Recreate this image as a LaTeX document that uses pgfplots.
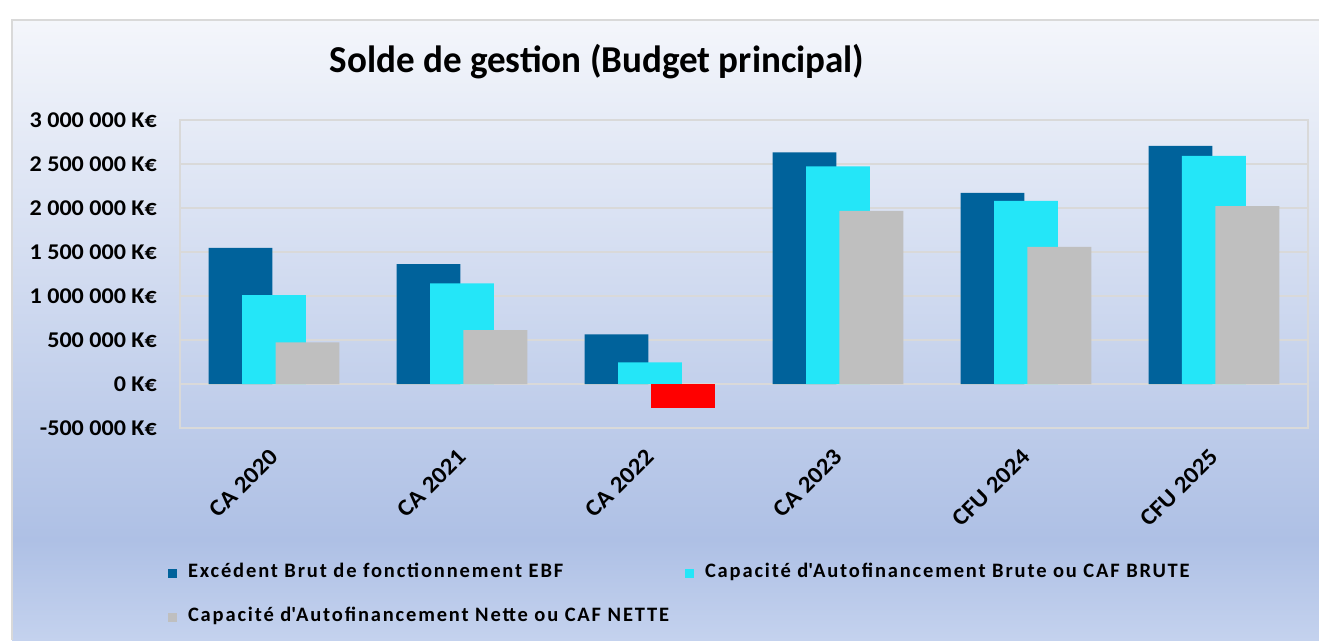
\documentclass[border=0pt]{standalone}
\usepackage{fontspec}
\setmainfont{Carlito}
\newfontfamily\titlefont{Carlito}[FakeStretch=0.975]
\newfontfamily\tickfont{Carlito}[FakeStretch=1.07]
\newfontfamily\legfont{Carlito}[LetterSpace=9]
\usepackage{pgfplots}
\pgfplotsset{compat=1.18}
\definecolor{ebf}{RGB}{0,98,155}
\definecolor{cafb}{RGB}{36,230,248}
\definecolor{cafn}{RGB}{191,191,191}
\definecolor{gridc}{RGB}{217,217,217}
\definecolor{bgtop}{RGB}{244,246,251}
\definecolor{bgmid}{RGB}{174,192,229}
\definecolor{bgbot}{RGB}{196,210,238}
\begin{document}
\begin{tikzpicture}[x=1pt,y=1pt]
\useasboundingbox (0,0) rectangle (1319,640);
\fill[white] (0,0) rectangle (1319,640);
\shade[top color=bgtop, bottom color=bgmid] (12,100) rectangle (1319,620);
\shade[top color=bgmid, bottom color=bgbot] (12,0) rectangle (1319,100.5);
\draw[gridc, line width=1.5pt] (12,0) -- (12,620) -- (1319,620);
\node[font=\titlefont\fontsize{38}{44}\selectfont\bfseries, anchor=base, inner sep=0pt] at (597,567) {Solde de gestion (Budget principal)};
\begin{axis}[
  at={(180pt,212pt)}, anchor=south west,
  scale only axis, width=1128pt, height=308pt,
  xmin=-0.5, xmax=5.5, ymin=-500000, ymax=3000000,
  axis line style={gridc, line width=1.5pt},
  ymajorgrids, grid style={gridc, line width=1.5pt},
  major tick length=0pt,
  xtick={0,1,2,3,4,5},
  xticklabels={CA 2020, CA 2021, CA 2022, CA 2023, CFU 2024, CFU 2025},
  ytick={-500000,0,500000,1000000,1500000,2000000,2500000,3000000},
  yticklabels={-500 000 K€, 0 K€, 500 000 K€, 1 000 000 K€, 1 500 000 K€, 2 000 000 K€, 2 500 000 K€, 3 000 000 K€},
  scaled y ticks=false,
  xticklabel shift=25pt,
  yticklabel shift=23pt,
  x tick label style={rotate=45, anchor=east, inner sep=0pt, font=\tickfont\fontsize{23.5}{28}\selectfont\bfseries},
  y tick label style={anchor=east, inner sep=0pt, font=\tickfont\fontsize{22.5}{27}\selectfont\bfseries},
  legend columns=2,
  legend image code/.code={\fill[#1, draw=none] (0pt,-4.5pt) rectangle (9pt,4.5pt);},
  legend style={at={(axis description cs:-0.0106,-0.4448)}, anchor=north west,
    draw=none, fill=none, inner sep=0pt, outer sep=0pt, row sep=27pt,
    font=\legfont\fontsize{20.5}{24}\selectfont\bfseries,
    nodes={inner sep=0pt, text height=13pt, text depth=4pt},
    /tikz/every odd column/.append style={column sep=11pt},
  },
  legend cell align=left,
]
\addplot[ybar, bar width=0.34, bar shift=-0.178, fill=ebf, draw=none]
  coordinates {(0,1546000) (1,1362000) (2,565000) (3,2633000) (4,2171000) (5,2707000)};
\addlegendentry{\makebox[497pt][l]{Excédent Brut de fonctionnement EBF}}
\addplot[ybar, bar width=0.34, bar shift=0, fill=cafb, draw=none]
  coordinates {(0,1010000) (1,1143000) (2,245000) (3,2474000) (4,2080000) (5,2591000)};
\addlegendentry{\makebox[497pt][l]{Capacité d\textquotesingle Autofinancement Brute ou CAF BRUTE}}
\addplot[ybar, bar width=0.34, bar shift=0.178, fill=cafn, draw=none]
  coordinates {(0,472000) (1,612000) (3,1967000) (4,1559000) (5,2020000)};
\addlegendentry{\makebox[497pt][l]{Capacité d\textquotesingle Autofinancement Nette ou CAF NETTE}}
\addplot[ybar, bar width=0.34, bar shift=0.178, fill=red, draw=none, forget plot]
  coordinates {(2,-275000)};
\end{axis}
\end{tikzpicture}
\end{document}
